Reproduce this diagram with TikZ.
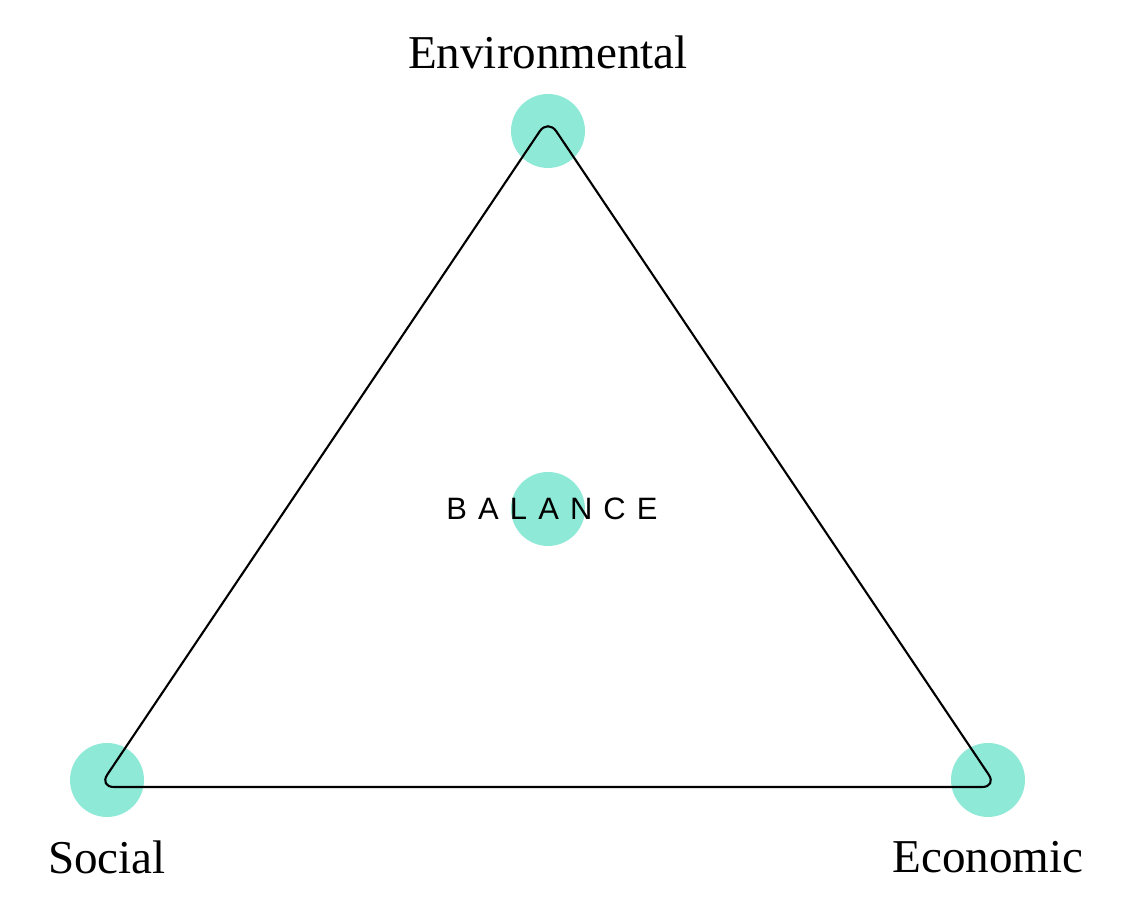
\documentclass[tikz,border=0pt]{standalone}
\usepackage{fontspec}
\setmainfont{Liberation Serif}
\newfontfamily\balancefont[LetterSpace=36]{Liberation Sans}
\definecolor{mint}{HTML}{8EE9D7}

\begin{document}
\begin{tikzpicture}
    \tikzset{dot/.style = {shape=circle, fill=mint, minimum size=0.74cm, inner sep=0pt}}
    \tikzset{pillar/.style = {font=\fontsize{13.4}{15}\selectfont, text=black}}
    \tikzset{edge/.style = {draw=black, line width=0.6pt, rounded corners=0.15cm}}

    \useasboundingbox (0,0) rectangle (11.34,9.07);

    % circles
    \node[dot] (env) at (5.48,7.76) {};
    \node[dot] (soc) at (1.07,1.27) {};
    \node[dot] (eco) at (9.88,1.27) {};
    \node[dot] (bal) at (5.48,3.98) {};

    % corners of the triangle
    \coordinate (top) at (5.48,7.88);
    \coordinate (left) at (0.99,1.20);
    \coordinate (right) at (9.97,1.20);

    % edges
    \draw[edge] (left) -- (top) -- (right) -- cycle;

    % labels
    \node[pillar] (envlabel) at (5.48,8.55) {Environmental};
    \node[pillar] (soclabel) at (1.07,0.50) {Social};
    \node[pillar] (ecolabel) at (9.88,0.50) {Economic};
    \node[font=\balancefont\fontsize{8.8}{10}\selectfont] (ballabel) at (5.52,3.98) {BALANCE};
\end{tikzpicture}
\end{document}
